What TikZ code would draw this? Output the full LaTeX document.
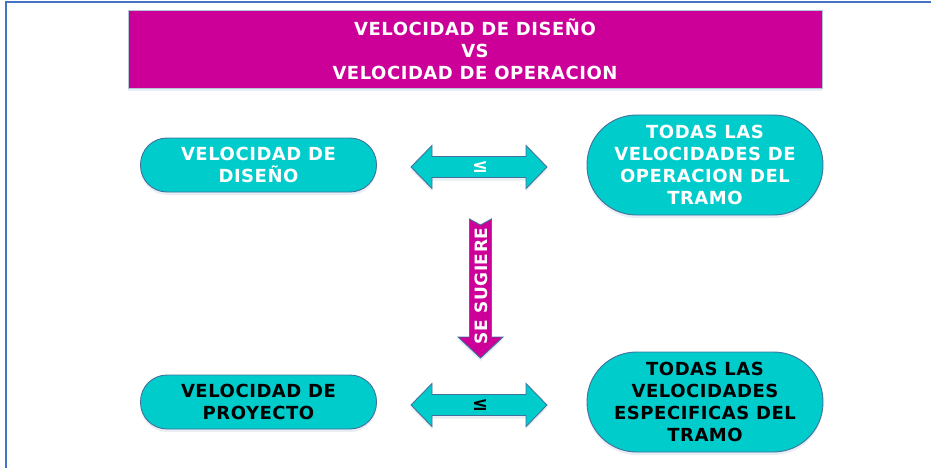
\documentclass[tikz,border=0pt]{standalone}
\usepackage{fontspec}
\setmainfont{DejaVu Sans}[LetterSpace=3]
\usetikzlibrary{shadows}
\definecolor{mag}{HTML}{CC0099}
\definecolor{cyanbox}{HTML}{00CCCC}
\definecolor{edgeblue}{HTML}{41719C}
\definecolor{frameblue}{HTML}{4472C4}
\begin{document}
\begin{tikzpicture}[x=1pt,y=-1pt,
  softshadow/.style={drop shadow={shadow xshift=0pt,shadow yshift=-3pt,opacity=0.12,fill=edgeblue}},
  pillbox/.style={draw=edgeblue, line width=0.9pt, fill=cyanbox, softshadow,
    minimum width=236pt, minimum height=#1, rounded corners=0.5*#1-0.5pt, inner sep=0pt,
    font=\bfseries\fontsize{18}{22}\selectfont, align=center},
  arrowshape/.style={draw=edgeblue, line width=0.9pt, fill=cyanbox, softshadow},
  symb/.style={font=\bfseries\fontsize{19}{22}\selectfont, inner sep=0pt},
]
\useasboundingbox (0,0) rectangle (931,468);
% frame
\draw[frameblue, line width=2.5pt] (6,468) -- (6,2) -- (931,2);
% title
\node[draw=edgeblue!40, line width=0.8pt, fill=mag, softshadow, minimum width=694pt, minimum height=78pt,
  inner sep=0pt, text=white, font=\bfseries\fontsize{18}{22}\selectfont, align=center]
  (title) at (475,49) {VELOCIDAD DE DISEÑO\\VS\\VELOCIDAD DE OPERACION};
% boxes
\node[pillbox=54pt, text=white] (vd) at (258.5,165) {VELOCIDAD DE\\DISEÑO};
\node[pillbox=100pt, text=white] (vo) at (705,165) {TODAS LAS\\VELOCIDADES DE\\OPERACION DEL\\TRAMO};
\node[pillbox=54pt, text=black] (vp) at (258.5,402) {VELOCIDAD DE\\PROYECTO};
\node[pillbox=100pt, text=black] (ve) at (705,402) {TODAS LAS\\VELOCIDADES\\ESPECIFICAS DEL\\TRAMO};
% double arrows
\foreach \cy/\nm/\col in {167/le1/white, 405/le2/black}{
  \begin{scope}[shift={(479,\cy)}]
    \path[arrowshape] (-68,0) -- (-47,-21.5) -- (-47,-10.5) -- (47,-10.5) -- (47,-21.5) -- (68,0)
      -- (47,21.5) -- (47,10.5) -- (-47,10.5) -- (-47,21.5) -- cycle;
    \node[symb, text=\col] (\nm) at (1,0) {≤};
  \end{scope}
}
% down arrow
\path[draw=edgeblue, line width=0.9pt, fill=mag, softshadow]
  (469.5,219) -- (480.5,225) -- (491.5,219) -- (491.5,337) -- (503,337) -- (480.5,358)
  -- (458,337) -- (469.5,337) -- cycle;
\node[rotate=90, text=white, font=\bfseries\fontsize{17}{20}\selectfont, inner sep=0pt] (sug) at (481,286) {SE SUGIERE};
\end{tikzpicture}
\end{document}
